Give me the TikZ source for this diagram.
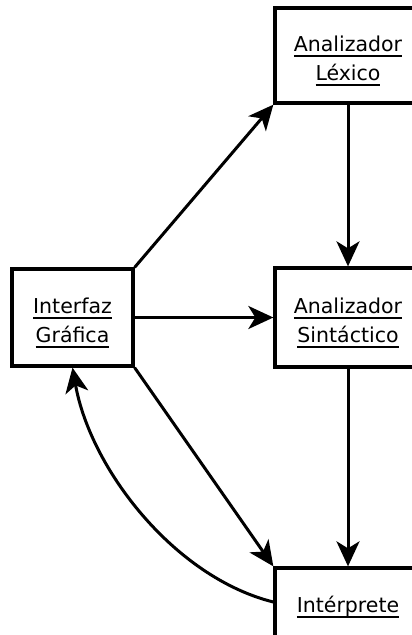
\documentclass[tikz,border=0pt]{standalone}
\usepackage{fontspec}
\setmainfont{DejaVu Sans}
\usetikzlibrary{arrows.meta}
% underlined word with the rule at a fixed depth below the baseline
\newcommand\ulword[1]{\setbox0\hbox{#1}\rlap{\rule[-5.5pt]{\wd0}{1.6pt}}\box0}

\begin{document}
\begin{tikzpicture}[x=1pt,y=-1pt,
  box/.style={draw,line width=3.3pt,inner sep=0pt,align=center,
    font=\fontsize{20.5}{29}\selectfont},
  twoline/.style={text height=54pt,text depth=5pt},
  oneline/.style={text height=19pt,text depth=5pt},
  link/.style={line width=3pt,-{Stealth[length=25pt,width=23pt,inset=7pt]}}]
\useasboundingbox (0,0) rectangle (412,635);
\clip (0,0) rectangle (412,635);

\node[box,twoline,minimum width=121pt,minimum height=97pt] (gui) at (72.5,317.5)
  {\ulword{Interfaz}\\\ulword{Gráfica}};
\node[box,twoline,minimum width=146pt,minimum height=95pt] (lex) at (348,55.5)
  {\ulword{Analizador}\\\ulword{Léxico}};
\node[box,twoline,minimum width=146pt,minimum height=99pt] (sin) at (348,317.5)
  {\ulword{Analizador}\\\ulword{Sintáctico}};
\node[box,oneline,minimum width=146pt,minimum height=74pt] (int) at (348,605)
  {\ulword{Intérprete}};

\draw[link] (gui.north east) -- (lex.south west);
\draw[link] (gui.east) -- (sin.west);
\draw[link] (gui.south east) -- (int.north west);
\draw[link] (lex.south) -- (sin.north);
\draw[link] (sin.south) -- (int.north);
\draw[link] ([yshift=3pt]int.west) to[out=166,in=-80,looseness=0.85] (gui.south);
\end{tikzpicture}
\end{document}
